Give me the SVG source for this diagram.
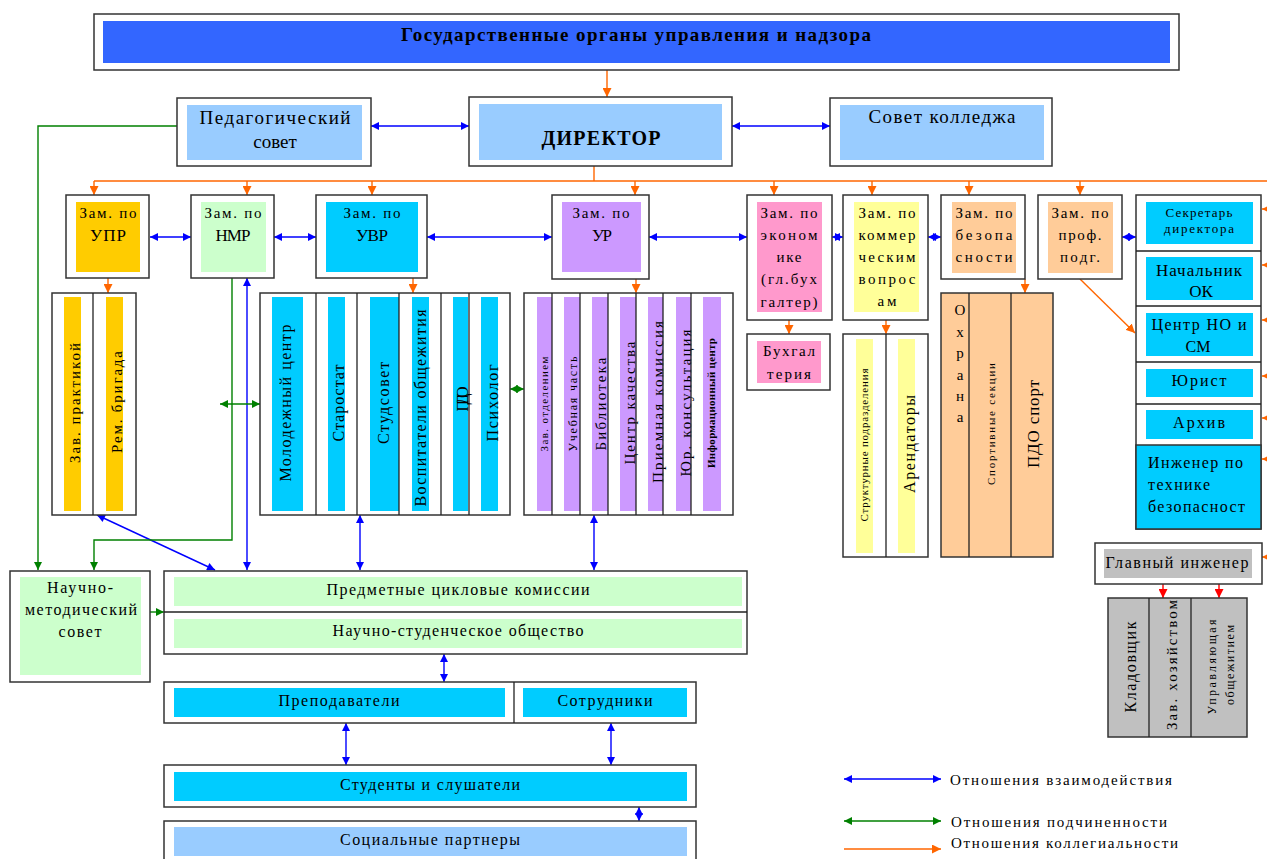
<svg xmlns="http://www.w3.org/2000/svg" width="1267" height="859" viewBox="0 0 1267 859">
<style>
.ob{fill:#fff;stroke:#333;stroke-width:1.5}
.dv{stroke:#222;stroke-width:1.3}
text{font-family:'Liberation Serif','Tinos','Times New Roman','DejaVu Serif',serif}
.t{fill:#000;text-anchor:middle}
.r{dominant-baseline:central}
.z{font-size:15px}
.cb{stroke:#0000FF;stroke-width:1.4;fill:none}
.cg{stroke:#008000;stroke-width:1.4;fill:none}
.co{stroke:#FF6600;stroke-width:1.4;fill:none}
.cr{stroke:#FF0000;stroke-width:1.4;fill:none}
</style>
<defs>
<marker id="ab" viewBox="0 0 10 10" refX="10" refY="5" markerWidth="9" markerHeight="8" orient="auto-start-reverse" markerUnits="userSpaceOnUse"><path d="M0,0 L10,5 L0,10 z" fill="#0000FF"/></marker>
<marker id="ag" viewBox="0 0 10 10" refX="10" refY="5" markerWidth="9" markerHeight="8" orient="auto-start-reverse" markerUnits="userSpaceOnUse"><path d="M0,0 L10,5 L0,10 z" fill="#008000"/></marker>
<marker id="ao" viewBox="0 0 10 10" refX="10" refY="5" markerWidth="9" markerHeight="9" orient="auto" markerUnits="userSpaceOnUse"><path d="M0,0 L10,5 L0,10 z" fill="#FF6600"/></marker>
<marker id="ar" viewBox="0 0 10 10" refX="10" refY="5" markerWidth="9" markerHeight="9" orient="auto" markerUnits="userSpaceOnUse"><path d="M0,0 L10,5 L0,10 z" fill="#FF0000"/></marker>
</defs>
<rect width="1267" height="859" fill="#fff"/>

<g id="connectors">
<line class="co" x1="607" y1="70" x2="607" y2="97" marker-end="url(#ao)"/>
<polyline class="co" points="594,166 594,181"/>
<line class="co" x1="94" y1="181" x2="1267" y2="181"/>
<line class="co" x1="94" y1="181" x2="94" y2="195" marker-end="url(#ao)"/>
<line class="co" x1="247" y1="181" x2="247" y2="195" marker-end="url(#ao)"/>
<line class="co" x1="372" y1="181" x2="372" y2="195" marker-end="url(#ao)"/>
<line class="co" x1="635" y1="181" x2="635" y2="195" marker-end="url(#ao)"/>
<line class="co" x1="774" y1="181" x2="774" y2="195" marker-end="url(#ao)"/>
<line class="co" x1="872" y1="181" x2="872" y2="195" marker-end="url(#ao)"/>
<line class="co" x1="969" y1="181" x2="969" y2="195" marker-end="url(#ao)"/>
<line class="co" x1="1080" y1="181" x2="1080" y2="195" marker-end="url(#ao)"/>
<line class="co" x1="1280" y1="209" x2="1262" y2="209" marker-end="url(#ao)"/>
<line class="co" x1="1280" y1="265" x2="1262" y2="265" marker-end="url(#ao)"/>
<line class="co" x1="1280" y1="320" x2="1262" y2="320" marker-end="url(#ao)"/>
<line class="co" x1="1280" y1="376" x2="1262" y2="376" marker-end="url(#ao)"/>
<line class="co" x1="1280" y1="418" x2="1262" y2="418" marker-end="url(#ao)"/>
<line class="co" x1="1280" y1="459" x2="1262" y2="459" marker-end="url(#ao)"/>
<line class="co" x1="1280" y1="557" x2="1262" y2="557" marker-end="url(#ao)"/>
<line class="co" x1="108" y1="278" x2="108" y2="293" marker-end="url(#ao)"/>
<line class="co" x1="413" y1="278" x2="413" y2="293" marker-end="url(#ao)"/>
<line class="co" x1="636" y1="279" x2="636" y2="293" marker-end="url(#ao)"/>
<line class="co" x1="789" y1="320" x2="789" y2="334" marker-end="url(#ao)"/>
<line class="co" x1="886" y1="320" x2="886" y2="334" marker-end="url(#ao)"/>
<line class="co" x1="1025" y1="279" x2="1025" y2="293" marker-end="url(#ao)"/>
<line class="co" x1="1080" y1="279" x2="1135" y2="333" marker-end="url(#ao)"/>
<line class="cr" x1="1163" y1="584" x2="1163" y2="598" marker-end="url(#ar)"/>
<line class="cr" x1="1219" y1="584" x2="1219" y2="598" marker-end="url(#ar)"/>

<line class="cb" x1="371" y1="126" x2="469" y2="126" marker-start="url(#ab)" marker-end="url(#ab)"/>
<line class="cb" x1="732" y1="126" x2="830" y2="126" marker-start="url(#ab)" marker-end="url(#ab)"/>
<line class="cb" x1="150" y1="237" x2="191" y2="237" marker-start="url(#ab)" marker-end="url(#ab)"/>
<line class="cb" x1="274" y1="237" x2="316" y2="237" marker-start="url(#ab)" marker-end="url(#ab)"/>
<line class="cb" x1="427" y1="237" x2="552" y2="237" marker-start="url(#ab)" marker-end="url(#ab)"/>
<line class="cb" x1="649" y1="237" x2="747" y2="237" marker-start="url(#ab)" marker-end="url(#ab)"/>
<line class="cb" x1="832" y1="237" x2="843" y2="237" marker-start="url(#ab)" marker-end="url(#ab)"/>
<line class="cb" x1="928" y1="237" x2="941" y2="237" marker-start="url(#ab)" marker-end="url(#ab)"/>
<line class="cb" x1="1122" y1="237" x2="1136" y2="237" marker-start="url(#ab)" marker-end="url(#ab)"/>
<line class="cb" x1="247" y1="278" x2="247" y2="570" marker-start="url(#ab)" marker-end="url(#ab)"/>
<line class="cb" x1="97" y1="515" x2="215" y2="570" marker-start="url(#ab)" marker-end="url(#ab)"/>
<line class="cb" x1="360" y1="515" x2="360" y2="570" marker-start="url(#ab)" marker-end="url(#ab)"/>
<line class="cb" x1="594" y1="515" x2="594" y2="570" marker-start="url(#ab)" marker-end="url(#ab)"/>
<line class="cb" x1="444" y1="654" x2="444" y2="682" marker-start="url(#ab)" marker-end="url(#ab)"/>
<line class="cb" x1="346" y1="723" x2="346" y2="765" marker-start="url(#ab)" marker-end="url(#ab)"/>
<line class="cb" x1="611" y1="723" x2="611" y2="765" marker-start="url(#ab)" marker-end="url(#ab)"/>
<line class="cb" x1="639" y1="807" x2="639" y2="821" marker-start="url(#ab)" marker-end="url(#ab)"/>

<polyline class="cg" points="177,126 38,126 38,570" marker-end="url(#ag)"/>
<polyline class="cg" points="232,278 232,540 94,540 94,570" marker-end="url(#ag)"/>
<line class="cg" x1="220" y1="404" x2="260" y2="404" marker-start="url(#ag)" marker-end="url(#ag)"/>
<line class="cg" x1="510" y1="389" x2="524" y2="389" marker-start="url(#ag)" marker-end="url(#ag)"/>
<line class="cg" x1="150" y1="612" x2="164" y2="612" marker-end="url(#ag)"/>
</g>

<g id="gov">
<rect class="ob" x="94" y="14" width="1085" height="56"/>
<rect x="103" y="21" width="1067" height="42" fill="#3366FF"/>
<text class="t" x="636" y="41" font-size="19" font-weight="bold" textLength="470">Государственные органы управления и надзора</text>
</g>
<g id="pedsovet">
<rect class="ob" x="177" y="98" width="194" height="68"/>
<rect x="187" y="105" width="175" height="55" fill="#99CCFF"/>
<text class="t" x="275" y="124" font-size="19" textLength="151">Педагогический</text>
<text class="t" x="275" y="148" font-size="19">совет</text>
</g>
<g id="director">
<rect class="ob" x="469" y="97" width="263" height="69"/>
<rect x="479" y="104" width="243" height="56" fill="#99CCFF"/>
<text class="t" x="601" y="145" font-size="20" font-weight="bold" textLength="119">ДИРЕКТОР</text>
</g>
<g id="sovet">
<rect class="ob" x="830" y="98" width="222" height="68"/>
<rect x="840" y="105" width="204" height="55" fill="#99CCFF"/>
<text class="t" x="942" y="123" font-size="19" textLength="147">Совет колледжа</text>
</g>

<g id="zam-upr">
<rect class="ob" x="66" y="195" width="83" height="83"/>
<rect x="76" y="202" width="64" height="70" fill="#FFCC00"/>
<text class="t z" x="108" y="218" textLength="57">Зам. по</text>
<text class="t" x="108" y="241" font-size="17" textLength="36">УПР</text>
</g>
<g id="zam-nmr">
<rect class="ob" x="191" y="195" width="83" height="83"/>
<rect x="201" y="202" width="65" height="70" fill="#CCFFCC"/>
<text class="t z" x="233" y="218" textLength="57">Зам. по</text>
<text class="t" x="233" y="241" font-size="17" textLength="35">НМР</text>
</g>
<g id="zam-uvr">
<rect class="ob" x="316" y="195" width="111" height="83"/>
<rect x="326" y="202" width="92" height="70" fill="#00CCFF"/>
<text class="t z" x="372" y="218" textLength="57">Зам. по</text>
<text class="t" x="372" y="241" font-size="17" textLength="32">УВР</text>
</g>
<g id="zam-ur">
<rect class="ob" x="552" y="195" width="97" height="84"/>
<rect x="562" y="202" width="79" height="70" fill="#CC99FF"/>
<text class="t z" x="601" y="218" textLength="57">Зам. по</text>
<text class="t" x="602" y="241" font-size="17" textLength="20">УР</text>
</g>
<g id="zam-econ">
<rect class="ob" x="747" y="195" width="85" height="125"/>
<rect x="757" y="202" width="65" height="110" fill="#FF99CC"/>
<text class="t z" x="789" y="218" textLength="57">Зам. по</text>
<text class="t z" x="789" y="240" textLength="57">эконом</text>
<text class="t z" x="789" y="262" textLength="25">ике</text>
<text class="t z" x="789" y="284" textLength="56">(гл.бух</text>
<text class="t z" x="789" y="307" textLength="57">галтер)</text>
</g>
<g id="buh">
<rect class="ob" x="747" y="334" width="83" height="56"/>
<rect x="757" y="341" width="64" height="42" fill="#FF99CC"/>
<text class="t z" x="789" y="356" textLength="52">Бухгал</text>
<text class="t z" x="789" y="379" textLength="44">терия</text>
</g>
<g id="zam-comm">
<rect class="ob" x="843" y="195" width="85" height="125"/>
<rect x="854" y="202" width="65" height="110" fill="#FFFF99"/>
<text class="t z" x="887" y="218" textLength="57">Зам. по</text>
<text class="t z" x="887" y="240" textLength="57">коммер</text>
<text class="t z" x="887" y="262" textLength="57">ческим</text>
<text class="t z" x="887" y="284" textLength="57">вопрос</text>
<text class="t z" x="887" y="306" textLength="19">ам</text>
</g>
<g id="zam-bez">
<rect class="ob" x="941" y="195" width="84" height="84"/>
<rect x="952" y="202" width="64" height="71" fill="#FFCC99"/>
<text class="t z" x="984" y="218" textLength="57">Зам. по</text>
<text class="t z" x="984" y="240" textLength="57">безопа</text>
<text class="t z" x="984" y="262" textLength="57">сности</text>
</g>
<g id="zam-prof">
<rect class="ob" x="1038" y="195" width="84" height="84"/>
<rect x="1048" y="202" width="65" height="71" fill="#FFCC99"/>
<text class="t z" x="1080" y="218" textLength="57">Зам. по</text>
<text class="t z" x="1080" y="240" textLength="43">проф.</text>
<text class="t z" x="1080" y="262" textLength="40">подг.</text>
</g>

<g id="right-column">
<rect class="ob" x="1136" y="195" width="125" height="334"/>
<rect x="1136" y="445" width="125" height="84" fill="#00CCFF" stroke="#333" stroke-width="1.5"/>
<line class="dv" x1="1136" y1="251" x2="1261" y2="251"/>
<line class="dv" x1="1136" y1="306" x2="1261" y2="306"/>
<line class="dv" x1="1136" y1="362" x2="1261" y2="362"/>
<line class="dv" x1="1136" y1="404" x2="1261" y2="404"/>
<rect x="1146" y="202" width="107" height="42" fill="#00CCFF"/>
<rect x="1146" y="257" width="107" height="43" fill="#00CCFF"/>
<rect x="1146" y="313" width="107" height="43" fill="#00CCFF"/>
<rect x="1146" y="369" width="107" height="28" fill="#00CCFF"/>
<rect x="1146" y="410" width="107" height="29" fill="#00CCFF"/>
<text class="t" x="1199" y="217" font-size="13" textLength="67">Секретарь</text>
<text class="t" x="1199" y="233" font-size="13" textLength="70">директора</text>
<text class="t" x="1199" y="276" font-size="17" textLength="86">Начальник</text>
<text class="t" x="1201" y="297" font-size="17">ОК</text>
<text class="t" x="1199" y="330" font-size="16" textLength="95">Центр НО и</text>
<text class="t" x="1198" y="352" font-size="16">СМ</text>
<text class="t" x="1199" y="386" font-size="16" textLength="55">Юрист</text>
<text class="t" x="1199" y="428" font-size="16" textLength="52">Архив</text>
<text class="t" x="1148" y="468" font-size="16" style="text-anchor:start" textLength="95">Инженер по</text>
<text class="t" x="1148" y="490" font-size="16" style="text-anchor:start" textLength="62">технике</text>
<text class="t" x="1148" y="512" font-size="16" style="text-anchor:start" textLength="97">безопасност</text>
</g>

<g id="gl-inzhener">
<rect class="ob" x="1095" y="543" width="167" height="41"/>
<rect x="1104" y="549" width="148" height="29" fill="#C0C0C0"/>
<text class="t" x="1177" y="568" font-size="16" textLength="143">Главный инженер</text>
</g>
<g id="hoz-group">
<rect x="1108" y="598" width="139" height="139" fill="#C0C0C0" stroke="#333" stroke-width="1.5"/>
<line class="dv" x1="1149" y1="598" x2="1149" y2="737"/>
<line class="dv" x1="1191" y1="598" x2="1191" y2="737"/>
<text class="t r" transform="translate(1130,667) rotate(-90)" font-size="16" textLength="91">Кладовщик</text>
<text class="t r" transform="translate(1172,665) rotate(-90)" font-size="15" textLength="130">Зав. хозяйством</text>
<text class="t r" transform="translate(1212,667) rotate(-90)" font-size="12" textLength="95">Управляющая</text>
<text class="t r" transform="translate(1230,665) rotate(-90)" font-size="12" textLength="80">общежитием</text>
</g>

<g id="upr-group">
<rect class="ob" x="52" y="293" width="84" height="222"/>
<line class="dv" x1="93" y1="293" x2="93" y2="515"/>
<rect x="64" y="297" width="17" height="214" fill="#FFCC00"/>
<rect x="106" y="297" width="17" height="214" fill="#FFCC00"/>
<text class="t r" transform="translate(75,403) rotate(-90)" font-size="15" textLength="120">Зав. практикой</text>
<text class="t r" transform="translate(117,402) rotate(-90)" font-size="15" textLength="102">Рем. бригада</text>
</g>

<g id="uvr-group">
<rect class="ob" x="260" y="293" width="250" height="222"/>
<rect x="272" y="297" width="31" height="214" fill="#00CCFF"/>
<rect x="328" y="297" width="17" height="214" fill="#00CCFF"/>
<rect x="370" y="297" width="29" height="214" fill="#00CCFF"/>
<rect x="412" y="297" width="17" height="214" fill="#00CCFF"/>
<rect x="453" y="297" width="15" height="214" fill="#00CCFF"/>
<rect x="481" y="297" width="17" height="214" fill="#00CCFF"/>
<line class="dv" x1="316" y1="293" x2="316" y2="515"/>
<line class="dv" x1="357" y1="293" x2="357" y2="515"/>
<line class="dv" x1="399" y1="293" x2="399" y2="515"/>
<line class="dv" x1="441" y1="293" x2="441" y2="515"/>
<line class="dv" x1="469" y1="293" x2="469" y2="515"/>
<text class="t r" transform="translate(285,403) rotate(-90)" font-size="16" textLength="157">Молодежный центр</text>
<text class="t r" transform="translate(338,403) rotate(-90)" font-size="16" textLength="77">Старостат</text>
<text class="t r" transform="translate(383,403) rotate(-90)" font-size="16" textLength="82">Студсовет</text>
<text class="t r" transform="translate(420,408) rotate(-90)" font-size="16" textLength="197">Воспитатели общежития</text>
<text class="t r" transform="translate(462,399) rotate(-90)" font-size="16" textLength="25">ПДО</text>
<text class="t r" transform="translate(492,403) rotate(-90)" font-size="16" textLength="77">Психолог</text>
</g>

<g id="ur-group">
<rect class="ob" x="524" y="293" width="209" height="222"/>
<rect x="537" y="297" width="15" height="214" fill="#CC99FF"/>
<rect x="564" y="297" width="16" height="214" fill="#CC99FF"/>
<rect x="592" y="297" width="16" height="214" fill="#CC99FF"/>
<rect x="620" y="297" width="16" height="214" fill="#CC99FF"/>
<rect x="648" y="297" width="15" height="214" fill="#CC99FF"/>
<rect x="676" y="297" width="15" height="214" fill="#CC99FF"/>
<rect x="703" y="297" width="18" height="214" fill="#CC99FF"/>
<text class="t r" transform="translate(544,404) rotate(-90)" font-size="11" textLength="95">Зав. отделением</text>
<text class="t r" transform="translate(573,404) rotate(-90)" font-size="12" textLength="95">Учебная часть</text>
<text class="t r" transform="translate(601,404) rotate(-90)" font-size="15" textLength="93">Библиотека</text>
<text class="t r" transform="translate(630,403) rotate(-90)" font-size="15" textLength="123">Центр качества</text>
<text class="t r" transform="translate(658,402) rotate(-90)" font-size="15" textLength="162">Приемная комиссия</text>
<text class="t r" transform="translate(686,403) rotate(-90)" font-size="15" textLength="147">Юр. консультация</text>
<text class="t r" transform="translate(711,403) rotate(-90)" font-size="11" font-weight="bold" textLength="130">Информационный центр</text>
<line class="dv" x1="552" y1="293" x2="552" y2="515"/>
<line class="dv" x1="580" y1="293" x2="580" y2="515"/>
<line class="dv" x1="608" y1="293" x2="608" y2="515"/>
<line class="dv" x1="636" y1="293" x2="636" y2="515"/>
<line class="dv" x1="663" y1="293" x2="663" y2="515"/>
<line class="dv" x1="691" y1="293" x2="691" y2="515"/>
</g>

<g id="comm-group">
<rect class="ob" x="843" y="334" width="85" height="223"/>
<line class="dv" x1="886" y1="334" x2="886" y2="557"/>
<rect x="856" y="339" width="17" height="214" fill="#FFFF99"/>
<rect x="898" y="339" width="17" height="214" fill="#FFFF99"/>
<text class="t r" transform="translate(864,445) rotate(-90)" font-size="11" textLength="153">Структурные подразделения</text>
<text class="t r" transform="translate(909,444) rotate(-90)" font-size="16" textLength="98">Арендаторы</text>
</g>

<g id="bez-group">
<rect x="941" y="293" width="112" height="264" fill="#FFCC99" stroke="#333" stroke-width="1.5"/>
<line class="dv" x1="969" y1="293" x2="969" y2="557"/>
<line class="dv" x1="1011" y1="293" x2="1011" y2="557"/>
<text class="t" x="960" y="315" font-size="15">О</text>
<text class="t" x="960" y="337" font-size="15">х</text>
<text class="t" x="960" y="358" font-size="15">р</text>
<text class="t" x="960" y="380" font-size="15">а</text>
<text class="t" x="960" y="401" font-size="15">н</text>
<text class="t" x="960" y="422" font-size="15">а</text>
<text class="t r" transform="translate(991,424) rotate(-90)" font-size="11" textLength="122">Спортивные секции</text>
<text class="t r" transform="translate(1033,424) rotate(-90)" font-size="17" textLength="88">ПДО спорт</text>
</g>

<g id="nms">
<rect class="ob" x="10" y="571" width="140" height="111"/>
<rect x="20" y="577" width="121" height="98" fill="#CCFFCC"/>
<text class="t" x="80" y="593" font-size="16" textLength="66">Научно-</text>
<text class="t" x="81" y="615" font-size="16" textLength="112">методический</text>
<text class="t" x="80" y="637" font-size="16" textLength="43">совет</text>
</g>

<g id="pck">
<rect class="ob" x="164" y="571" width="583" height="83"/>
<line class="dv" x1="164" y1="612" x2="747" y2="612"/>
<rect x="174" y="577" width="568" height="29" fill="#CCFFCC"/>
<rect x="174" y="619" width="568" height="29" fill="#CCFFCC"/>
<text class="t" x="458" y="595" font-size="16" textLength="263">Предметные цикловые комиссии</text>
<text class="t" x="458" y="636" font-size="16" textLength="251">Научно-студенческое общество</text>
</g>

<g id="staff">
<rect class="ob" x="164" y="682" width="532" height="41"/>
<line class="dv" x1="514" y1="682" x2="514" y2="723"/>
<rect x="174" y="688" width="331" height="29" fill="#00CCFF"/>
<rect x="523" y="688" width="164" height="29" fill="#00CCFF"/>
<text class="t" x="339" y="706" font-size="16" textLength="121">Преподаватели</text>
<text class="t" x="605" y="706" font-size="16" textLength="95">Сотрудники</text>
</g>

<g id="students">
<rect class="ob" x="164" y="765" width="532" height="42"/>
<rect x="174" y="772" width="513" height="29" fill="#00CCFF"/>
<text class="t" x="430" y="790" font-size="16" textLength="180">Студенты и слушатели</text>
</g>

<g id="partners">
<rect class="ob" x="164" y="821" width="532" height="50"/>
<rect x="174" y="827" width="513" height="29" fill="#99CCFF"/>
<text class="t" x="430" y="845" font-size="16" textLength="180">Социальные партнеры</text>
</g>

<g id="legend">
<line class="cb" x1="844" y1="779" x2="941" y2="779" marker-start="url(#ab)" marker-end="url(#ab)"/>
<line class="cg" x1="844" y1="821" x2="941" y2="821" marker-start="url(#ag)" marker-end="url(#ag)"/>
<line class="co" x1="844" y1="849" x2="941" y2="849" marker-end="url(#ao)"/>
<text class="t" x="950" y="785" font-size="15" style="text-anchor:start" textLength="222">Отношения взаимодействия</text>
<text class="t" x="951" y="827" font-size="15" style="text-anchor:start" textLength="216">Отношения подчиненности</text>
<text class="t" x="951" y="848" font-size="15" style="text-anchor:start" textLength="227">Отношения коллегиальности</text>
</g>
</svg>
